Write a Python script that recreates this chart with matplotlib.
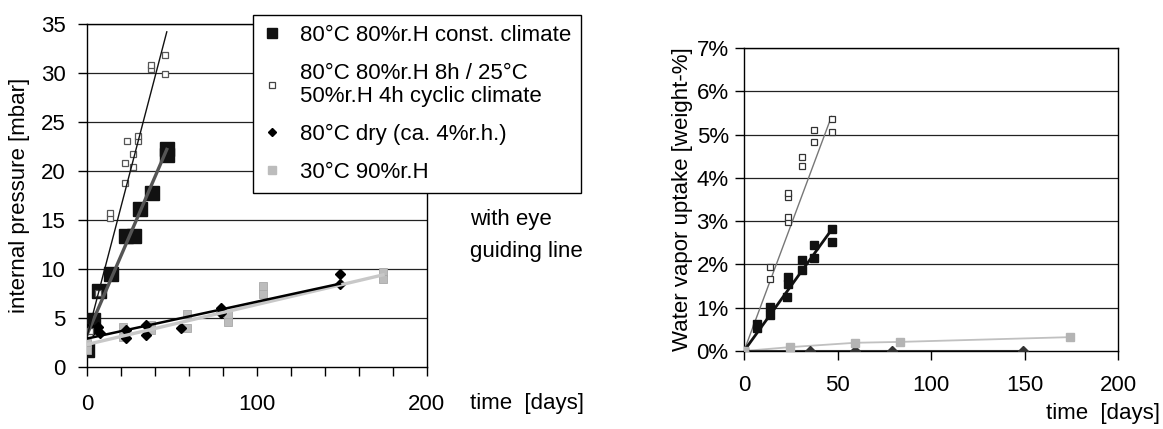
import matplotlib
matplotlib.use("Agg")
import matplotlib.pyplot as plt
from matplotlib.lines import Line2D
from matplotlib.ticker import PercentFormatter, FixedLocator, FixedFormatter

plt.rcParams['font.family'] = ['Liberation Sans', 'DejaVu Sans']
FS = 16

# ---------------- data: left chart (internal pressure, mbar) ----------------
const_x = [0, 3.5, 3.0, 7, 14, 23, 27.5, 31, 38, 47, 47]
const_y = [1.7, 4.8, 4.2, 7.8, 9.5, 13.4, 13.4, 16.1, 17.8, 21.6, 22.2]
const_fit_x = [0, 47]
const_fit_y = [3.3, 22.2]

cyc_x = [1.6, 6.5, 13.4, 13.4, 22.3, 22.3, 23.5, 27, 27, 30, 30, 37.5, 37.5, 46.2, 46.2]
cyc_y = [3.7, 7.6, 15.2, 15.7, 18.8, 20.8, 23.1, 20.4, 21.7, 23.1, 23.6, 30.4, 30.8, 31.8, 29.9]
cyc_fit_x = [0, 47]
cyc_fit_y = [3.1, 34.2]

dry_x = [0, 3.5, 6.4, 7.4, 23, 23, 34.8, 34.8, 55.3, 78.7, 78.7, 149, 149]
dry_y = [3.85, 3.75, 4.1, 3.5, 3.75, 3.0, 4.3, 3.3, 4.0, 6.0, 5.5, 9.5, 8.5]
dry_fit_x = [0, 149]
dry_fit_y = [2.9, 8.5]

wet_x = [0, 0, 21, 21, 37.7, 37.7, 59, 59, 83, 83, 103.5, 103.5, 174.4, 174.4]
wet_y = [2.4, 1.7, 4.1, 3.1, 3.8, 4.3, 5.4, 4.0, 5.3, 4.6, 8.3, 7.5, 9.7, 9.0]
wet_fit_x = [0, 174.4]
wet_fit_y = [2.3, 9.4]

left_yticks = [0, 5, 10, 15, 20, 25, 30, 35]
left_xticks = [0, 20, 40, 60, 80, 100, 120, 140, 160, 180, 200]
left_xticklabels = ['0', '', '', '', '', '100', '', '', '', '', '200']

legend_labels = ["80°C 80%r.H const. climate",
                 "80°C 80%r.H 8h / 25°C\n50%r.H 4h cyclic climate",
                 "80°C dry (ca. 4%r.h.)",
                 "30°C 90%r.H"]

# ---------------- data: right chart (water vapor uptake, %) ----------------
r_cyc_x = [0, 13.7, 13.7, 23.4, 23.4, 23.4, 23.4, 30.9, 30.9, 37.6, 37.6, 46.8, 46.8]
r_cyc_y = [0, 1.93, 1.67, 3.56, 3.66, 2.99, 3.09, 4.27, 4.49, 4.82, 5.11, 5.05, 5.35]
r_cyc_fit_x = [0, 46.8]
r_cyc_fit_y = [0, 5.42]

r_const_x = [0, 7.1, 7.1, 13.7, 13.7, 22.9, 23.4, 23.4, 30.9, 30.9, 37.6, 37.6, 46.8, 46.8]
r_const_y = [0, 0.53, 0.63, 0.83, 1.02, 1.25, 1.54, 1.71, 1.87, 2.11, 2.15, 2.45, 2.51, 2.81]
r_const_fit_x = [0, 46.8]
r_const_fit_y = [0, 2.8]

r_wet_x = [0, 24.8, 59.4, 83.2, 174.2]
r_wet_y = [0, 0.09, 0.19, 0.21, 0.32]

r_dry_x = [0, 35.3, 59.2, 79.3, 149.3]
r_dry_y = [0, 0, 0, 0, 0]

right_yticks = [0, 1, 2, 3, 4, 5, 6, 7]
right_xticks = [0, 50, 100, 150, 200]

# ---------------- styles ----------------
C_CONST = '#111111'
C_CONST_LINE = '#555555'
C_CYC_EDGE = '#555555'
C_DRY = '#000000'
C_WET = '#bcbcbc'

W, H = 1163, 429
fig = plt.figure(figsize=(W / 100, H / 100), dpi=100)


def px_axes(x0, y0, x1, y1):
    return fig.add_axes([x0 / W, 1 - y1 / H, (x1 - x0) / W, (y1 - y0) / H])


# ---------------- left axes ----------------
ax = px_axes(87, 24, 426.5, 367)
ax.set_xlim(0, 200)
ax.set_ylim(0, 35)
for v in left_yticks[1:]:
    ax.axhline(v, color='#222222', lw=0.9, zorder=1)

ax.plot(const_x, const_y, ls='none', marker='s', ms=10.5, mfc=C_CONST, mec=C_CONST, zorder=3)
ax.plot(wet_x, wet_y, ls='none', marker='s', ms=5.5, mfc=C_WET, mec='#a8a8a8', mew=0.6, zorder=3)
ax.plot(dry_x, dry_y, ls='none', marker='D', ms=5.2, mfc=C_DRY, mec=C_DRY, zorder=4)
ax.plot(cyc_x, cyc_y, ls='none', marker='s', ms=4.6, mfc='white', mec=C_CYC_EDGE, mew=0.9, zorder=4)

ax.plot(const_fit_x, const_fit_y, color=C_CONST_LINE, lw=2.4, zorder=5)
ax.plot(cyc_fit_x, cyc_fit_y, color='#111111', lw=1.0, zorder=5)
ax.plot(wet_fit_x, wet_fit_y, color='#c8c8c8', lw=2.4, zorder=5)
ax.plot(dry_fit_x, dry_fit_y, color='#000000', lw=1.8, zorder=5)

ax.set_yticks(left_yticks)
ax.xaxis.set_major_locator(FixedLocator(left_xticks))
ax.xaxis.set_major_formatter(FixedFormatter(left_xticklabels))
ax.tick_params(axis='both', direction='out', length=6.5, width=1.0, colors='black',
               labelsize=FS)
ax.tick_params(axis='x', pad=13)
ax.tick_params(axis='y', pad=9)
for s in ax.spines.values():
    s.set_linewidth(1.0)
    s.set_color('black')
ax.set_ylabel('internal pressure [mbar]', fontsize=FS)
ax.yaxis.set_label_coords(-0.168, 0.5)

fig.text(470 / W, 1 - 403 / H, 'time  [days]', fontsize=FS, ha='left', va='center')
fig.text(470 / W, 1 - 220 / H, 'with eye', fontsize=FS, ha='left', va='center')
fig.text(470 / W, 1 - 252 / H, 'guiding line', fontsize=FS, ha='left', va='center')

handles = [
    Line2D([], [], ls='none', marker='s', ms=7.5, mfc=C_CONST, mec=C_CONST),
    Line2D([], [], ls='none', marker='s', ms=5, mfc='white', mec='#444444', mew=0.9),
    Line2D([], [], ls='none', marker='D', ms=4.5, mfc=C_DRY, mec=C_DRY),
    Line2D([], [], ls='none', marker='s', ms=5.5, mfc=C_WET, mec=C_WET),
]
leg = fig.legend(handles, legend_labels, loc='upper left',
                 bbox_to_anchor=(253 / W, 1 - 15 / H), borderaxespad=0,
                 fontsize=FS, frameon=True, fancybox=False, shadow=False,
                 handlelength=0.8, handletextpad=0.86, borderpad=0.45,
                 labelspacing=0.75, framealpha=1)
leg.get_frame().set_edgecolor('black')
leg.get_frame().set_linewidth(1.0)
for t in leg.get_texts():
    t.set_linespacing(1.15)

# ---------------- right axes ----------------
ax2 = px_axes(744, 48, 1118, 351)
ax2.set_xlim(0, 200)
ax2.set_ylim(0, 7)
for v in right_yticks[1:]:
    ax2.axhline(v, color='#222222', lw=0.9, zorder=1)

ax2.plot(r_cyc_fit_x, r_cyc_fit_y, color='#777777', lw=1.0, zorder=3)
ax2.plot(r_const_fit_x, r_const_fit_y, color='#111111', lw=2.0, zorder=3)
ax2.plot(r_wet_x, r_wet_y, color='#c0c0c0', lw=1.3, zorder=3)
ax2.plot(r_dry_x, r_dry_y, color='#333333', lw=1.5, zorder=3)

ax2.plot(r_const_x, r_const_y, ls='none', marker='s', ms=6.3, mfc=C_CONST, mec=C_CONST, zorder=4)
ax2.plot(r_cyc_x, r_cyc_y, ls='none', marker='s', ms=4.4, mfc='white', mec='#333333', mew=0.9, zorder=5)
ax2.plot(r_dry_x, r_dry_y, ls='none', marker='D', ms=5.2, mfc='#333333', mec='#333333', zorder=5)
ax2.plot(r_wet_x, r_wet_y, ls='none', marker='s', ms=5.3, mfc='#b4b4b4', mec='#b4b4b4', zorder=6)

ax2.set_yticks(right_yticks)
ax2.yaxis.set_major_formatter(PercentFormatter(decimals=0))
ax2.set_xticks(right_xticks)
ax2.tick_params(axis='both', direction='out', length=6.5, width=1.0, colors='black',
                labelsize=FS)
ax2.tick_params(axis='x', pad=11)
ax2.tick_params(axis='y', pad=4.5)
for s in ax2.spines.values():
    s.set_linewidth(1.0)
    s.set_color('black')
ax2.set_ylabel('Water vapor uptake [weight-%]', fontsize=FS)
ax2.yaxis.set_label_coords(-0.136, 0.5)

fig.text(1160 / W, 1 - 413 / H, 'time  [days]', fontsize=FS, ha='right', va='center')

fig.savefig('out.png', dpi=100)
